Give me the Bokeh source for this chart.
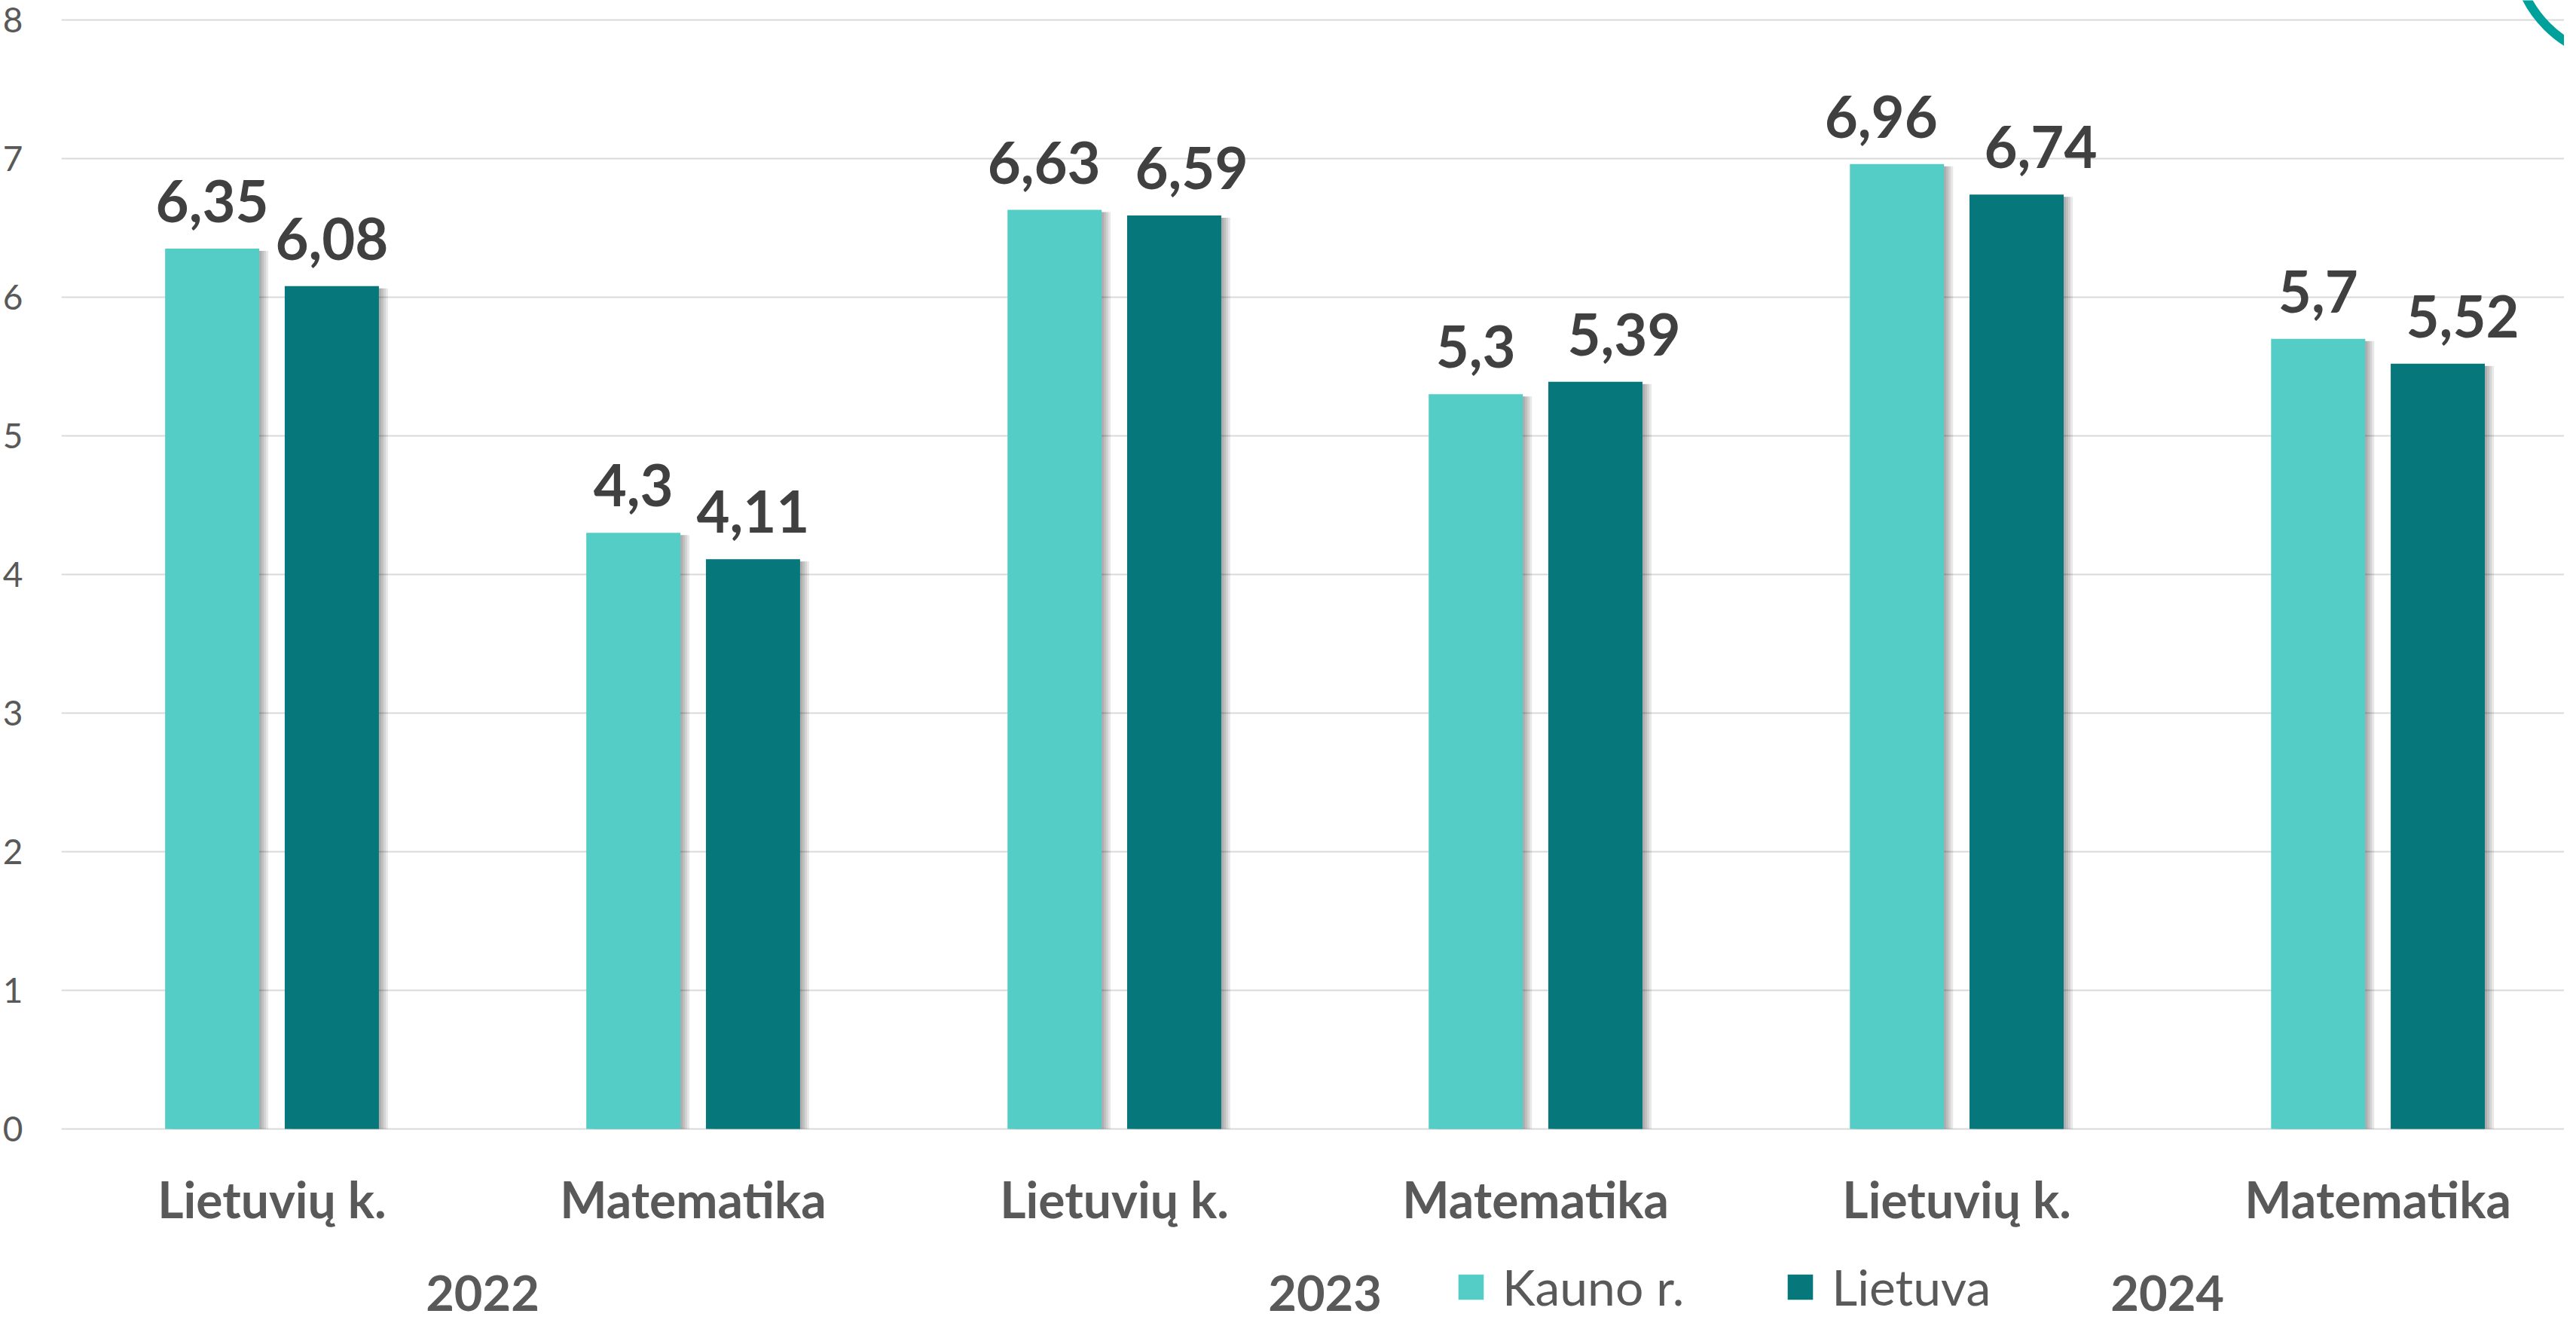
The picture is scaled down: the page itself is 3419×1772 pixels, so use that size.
import numpy as np
from bokeh.plotting import figure
from bokeh.models import (ColumnDataSource, FixedTicker, Range1d,
                          Legend, LegendItem, LabelSet)
from bokeh.core.properties import value
from bokeh.embed import file_html
from bokeh.resources import INLINE

# ---------------- data ----------------
years = ["2022", "2023", "2024"]
subjects = ["Lietuvių k.", "Matematika", "Lietuvių k.", "Matematika", "Lietuvių k.", "Matematika"]
kauno = [6.35, 4.3, 6.63, 5.3, 6.96, 5.7]
lietuva = [6.08, 4.11, 6.59, 5.39, 6.74, 5.52]
series_names = ["Kauno r.", "Lietuva"]
y_ticks = [0, 1, 2, 3, 4, 5, 6, 7, 8]

# ---------------- style ----------------
FONT = "Lato"
C_KAUNO = "#53CDC5"
C_LT = "#06787C"
C_TEXT = "#595959"
C_LABEL = "#404040"
W, H = 3403, 1756
PX_X = 559.2          # pixels per category
PX_Y = 184.0          # pixels per unit
FRAME_LEFT = 80
TOP_GAP = 26          # pixels between the frame top and the "8" grid line
BAR_W = 125 / PX_X
DODGE = 0.142
SUB_GAP = 93          # pixels below the zero line for the subject row
YEAR_GAP = 218        # pixels below the zero line for the year row (text middle)
# manual horizontal nudges of the value labels (pixels), as in the original
nudge_k = [0, 0, -14, 0, -21, 0]
nudge_l = [0, 0, 23, 38, 32, 33]

n = len(subjects)
xc = np.arange(n, dtype=float)
x_start = -0.5
x_end = x_start + (W - FRAME_LEFT) / PX_X
y_end = 8 + TOP_GAP / PX_Y
y_start = y_end - H / PX_Y

p = figure(width=W, height=H, output_backend="svg", toolbar_location=None,
           x_range=Range1d(x_start, x_end), y_range=Range1d(y_start, y_end),
           min_border_left=0, min_border_right=0, min_border_top=0, min_border_bottom=0,
           outline_line_color=None, background_fill_color="white", border_fill_color="white")
p.xaxis.visible = False
p.xgrid.visible = False

def fmt(v):
    return ("%g" % v).replace(".", ",")

src_k = ColumnDataSource(dict(x=xc - DODGE, top=kauno, text=[fmt(v) for v in kauno], dx=nudge_k))
src_l = ColumnDataSource(dict(x=xc + DODGE, top=lietuva, text=[fmt(v) for v in lietuva], dx=nudge_l))

# soft shadows to the right of each bar
for vals, xs in ((kauno, xc - DODGE), (lietuva, xc + DODGE)):
    for dx in (3, 6, 9, 12):
        p.vbar(x=xs + dx / PX_X, top=np.array(vals) - 3 / PX_Y, bottom=0, width=BAR_W,
               fill_color="black", fill_alpha=0.09, line_color=None)

r1 = p.vbar(x="x", top="top", bottom=0, width=BAR_W, source=src_k,
            fill_color=C_KAUNO, line_color=None)
r2 = p.vbar(x="x", top="top", bottom=0, width=BAR_W, source=src_l,
            fill_color=C_LT, line_color=None)

for src in (src_k, src_l):
    p.add_layout(LabelSet(x="x", y="top", text="text", source=src, x_offset="dx", y_offset=35,
                          text_align="center", text_baseline="alphabetic",
                          text_font=value(FONT), text_font_size="76px", text_font_style="bold",
                          text_color=C_LABEL))

# y axis
p.yaxis.ticker = FixedTicker(ticks=y_ticks)
p.yaxis.axis_line_color = None
p.yaxis.major_tick_line_color = None
p.yaxis.minor_tick_line_color = None
p.yaxis.major_tick_out = 0
p.yaxis.major_tick_in = 0
p.yaxis.major_label_standoff = 51
p.yaxis.major_label_text_font = FONT
p.yaxis.major_label_text_font_size = "46px"
p.yaxis.major_label_text_color = C_TEXT
p.ygrid.ticker = FixedTicker(ticks=y_ticks)
p.ygrid.grid_line_color = "#D9D9D9"
p.ygrid.grid_line_width = 2

# category labels (subjects) and group labels (years) under the bars
sub_src = ColumnDataSource(dict(x=xc, y=np.full(n, -SUB_GAP / PX_Y), text=subjects))
p.text(x="x", y="y", text="text", source=sub_src, text_align="center",
       text_baseline="alphabetic", text_font=value(FONT), text_font_size="66px",
       text_font_style="bold", text_color=C_TEXT)
year_x = [2 * i + 0.5 for i in range(len(years))]
year_src = ColumnDataSource(dict(x=year_x, y=[-YEAR_GAP / PX_Y] * len(years), text=years))
p.text(x="x", y="y", text="text", source=year_src, text_align="center",
       text_baseline="middle", text_font=value(FONT), text_font_size="65px",
       text_font_style="bold", text_color=C_TEXT)

# decorative ring in the top-right corner
p.circle(x=x_start + (3487 - FRAME_LEFT) / PX_X, y=8 + (TOP_GAP + 72) / PX_Y, radius=151 / PX_X,
         fill_color=None, line_color="#00A19A", line_width=12)

legend = Legend(items=[LegendItem(label=series_names[0], renderers=[r1]),
                       LegendItem(label=series_names[1], renderers=[r2])],
                orientation="horizontal", location=(1850, 9),
                glyph_width=42, glyph_height=42, label_standoff=21, spacing=133,
                padding=0, margin=0, border_line_color=None, background_fill_alpha=0,
                label_text_font=FONT, label_text_font_size="66px", label_text_color=C_TEXT)
p.add_layout(legend)

open("out.html", "w").write(file_html(p, INLINE))
